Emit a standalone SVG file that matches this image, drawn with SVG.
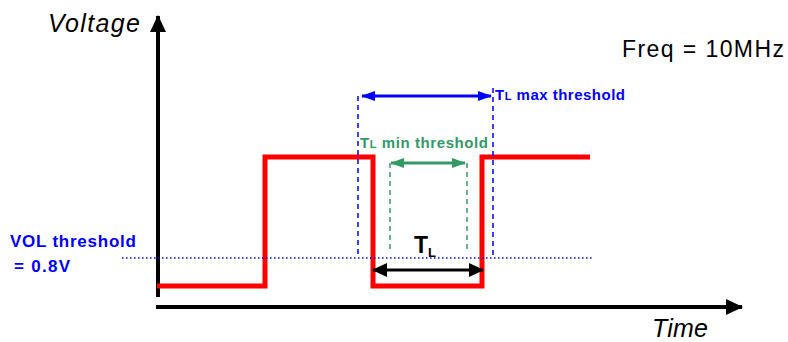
<svg xmlns="http://www.w3.org/2000/svg" width="788" height="342" viewBox="0 0 788 342">
<defs>
<style>
.lbl{font-family:"Liberation Sans",Arial,sans-serif;}
.ital{font-style:italic;font-size:25px;fill:#000;}
.blue{fill:#0000ff;font-weight:bold;}
.green{fill:#339966;font-weight:bold;}
</style>
<marker id="hb" viewBox="0 0 14 10" refX="13" refY="5" markerWidth="14" markerHeight="10" markerUnits="userSpaceOnUse" orient="auto-start-reverse"><path d="M0,0 L14,5 L0,10 Z" fill="#0000ff"/></marker>
<marker id="hg" viewBox="0 0 14 10" refX="13" refY="5" markerWidth="14" markerHeight="10" markerUnits="userSpaceOnUse" orient="auto-start-reverse"><path d="M0,0 L14,5 L0,10 Z" fill="#339966"/></marker>
<marker id="hk" viewBox="0 0 15 14" refX="14" refY="7" markerWidth="15" markerHeight="14" markerUnits="userSpaceOnUse" orient="auto-start-reverse"><path d="M0,0 L15,7 L0,14 Z" fill="#000"/></marker>
<marker id="ax" viewBox="0 0 17 16" refX="16" refY="8" markerWidth="17" markerHeight="16" markerUnits="userSpaceOnUse" orient="auto"><path d="M0,0 L17,8 L0,16 Z" fill="#000"/></marker>
</defs>
<g id="axes">
<line x1="158" y1="297" x2="158" y2="16" stroke="#000" stroke-width="4" marker-end="url(#ax)"/>
<line x1="156" y1="307" x2="742" y2="307" stroke="#000" stroke-width="4" marker-end="url(#ax)"/>
</g>
<g id="waveform">
<polyline points="157,286 265,286 265,157 373,157 373,286 482,286 482,157 590,157" fill="none" stroke="#ff0000" stroke-width="5"/>
</g>
<g id="connectors">
<line x1="122" y1="258" x2="594" y2="258" stroke="#0000ff" stroke-width="1.5" stroke-dasharray="1.5,2.5"/>
<line x1="358" y1="96" x2="358" y2="257" stroke="#0000ff" stroke-width="1.5" stroke-dasharray="5,4"/>
<line x1="493" y1="88" x2="493" y2="257" stroke="#0000ff" stroke-width="1.5" stroke-dasharray="5,4"/>
<line x1="390" y1="163" x2="390" y2="253" stroke="#339966" stroke-width="1.5" stroke-dasharray="5,4"/>
<line x1="467" y1="163" x2="467" y2="253" stroke="#339966" stroke-width="1.5" stroke-dasharray="5,4"/>
<line x1="362" y1="96" x2="491" y2="96" stroke="#0000ff" stroke-width="3" marker-start="url(#hb)" marker-end="url(#hb)"/>
<line x1="391" y1="163" x2="465" y2="163" stroke="#339966" stroke-width="3" marker-start="url(#hg)" marker-end="url(#hg)"/>
<line x1="373" y1="270" x2="483" y2="270" stroke="#000" stroke-width="3" marker-start="url(#hk)" marker-end="url(#hk)"/>
</g>
<g id="labels">
<text class="lbl ital" x="48" y="32" textLength="92">Voltage</text>
<text class="lbl ital" x="652" y="337" textLength="56">Time</text>
<text class="lbl" x="622" y="57" font-size="23" textLength="162" fill="#000">Freq = 10MHz</text>
<text class="lbl blue" x="10" y="247" font-size="17" textLength="126">VOL threshold</text>
<text class="lbl blue" x="14" y="272" font-size="17" textLength="56">= 0.8V</text>
<text class="lbl blue" x="495" y="100" font-size="15" textLength="130">T<tspan font-size="11">L</tspan> max threshold</text>
<text class="lbl green" x="360" y="148" font-size="15" textLength="128">T<tspan font-size="11">L</tspan> min threshold</text>
<text class="lbl" x="414" y="253" font-size="23" font-weight="bold" fill="#000">T<tspan font-size="13" dy="4">L</tspan></text>
</g>
</svg>
